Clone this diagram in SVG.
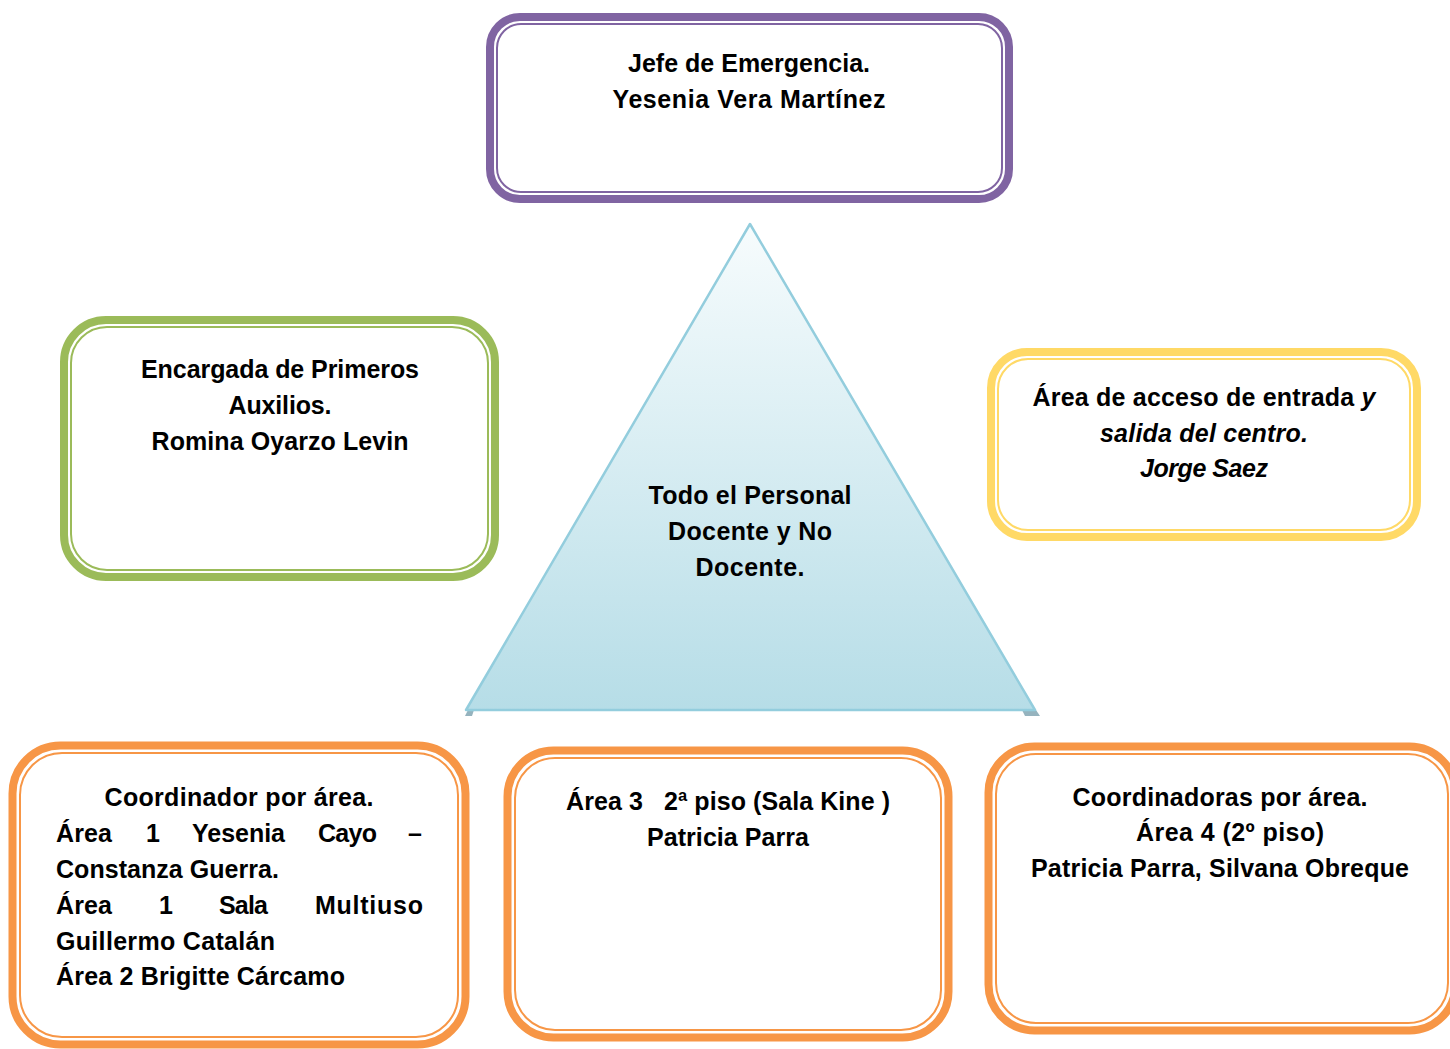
<svg xmlns="http://www.w3.org/2000/svg" width="1450" height="1049" viewBox="0 0 1450 1049">
<defs>
<linearGradient id="tri" x1="0" y1="0" x2="0" y2="1">
<stop offset="0" stop-color="#f7fcfd"/>
<stop offset="1" stop-color="#b6dde7"/>
</linearGradient>
<style>
.t{font-family:"Liberation Sans",Arial,sans-serif;font-weight:bold;font-size:25px;fill:#000}
.c{text-anchor:middle}
.i{font-style:italic}
.purple{stroke:#8064a2}
.green{stroke:#9bbb59}
.yellow{stroke:#ffd966}
.orange{stroke:#f79646}
.thick{fill:#fff;stroke-width:8}
.thin{fill:none;stroke-width:2}
</style>
</defs>
<rect width="1450" height="1049" fill="#fff"/>

<g id="triangle">
<polygon points="465,716 472,716 474,710 468,710" fill="#95b3be"/>
<polygon points="1022,710 1036,710 1040,716 1025,716" fill="#95b3be"/>
<polygon points="750,224 1035,710 466,710" fill="url(#tri)" stroke="#93cddd" stroke-width="2.5" stroke-linejoin="round"/>
<text class="t c" x="750" y="504" textLength="203">Todo el Personal</text>
<text class="t c" x="750" y="540" textLength="164">Docente y No</text>
<text class="t c" x="750" y="576" textLength="109">Docente.</text>
</g>

<g id="jefe">
<rect class="thick purple" x="490" y="17" width="519" height="182" rx="30"/>
<rect class="thin purple" x="497" y="24" width="505" height="168" rx="24"/>
<text class="t c" x="749" y="72" textLength="242">Jefe de Emergencia.</text>
<text class="t c" x="749" y="108" textLength="273">Yesenia Vera Martínez</text>
</g>

<g id="primeros-auxilios">
<rect class="thick green" x="64" y="320" width="431" height="257" rx="42"/>
<rect class="thin green" x="71" y="327" width="417" height="243" rx="36"/>
<text class="t c" x="280" y="378" textLength="278">Encargada de Primeros</text>
<text class="t c" x="280" y="414" textLength="103">Auxilios.</text>
<text class="t c" x="280" y="450" textLength="257">Romina Oyarzo Levin</text>
</g>

<g id="acceso">
<rect class="thick yellow" x="991" y="352" width="426" height="185" rx="36"/>
<rect class="thin yellow" x="998" y="359" width="412" height="171" rx="30"/>
<text class="t c" x="1204" y="406" textLength="343">Área de acceso de entrada <tspan class="i">y</tspan></text>
<text class="t c i" x="1204" y="442" textLength="208">salida del centro.</text>
<text class="t c i" x="1204" y="477" textLength="128">Jorge Saez</text>
</g>

<g id="coordinador">
<rect class="thick orange" x="12.5" y="745.5" width="453" height="299" rx="48" stroke-width="9"/>
<rect class="thin orange" x="20" y="753" width="438" height="284" rx="42"/>
<text class="t c" x="239" y="806" textLength="269">Coordinador por área.</text>
<text class="t" x="56" y="842" textLength="56">Área</text>
<text class="t" x="146" y="842" textLength="12">1</text>
<text class="t" x="192" y="842" textLength="93">Yesenia</text>
<text class="t" x="318" y="842" textLength="59">Cayo</text>
<text class="t" x="408" y="842" textLength="16">–</text>
<text class="t" x="56" y="878" textLength="223">Constanza Guerra.</text>
<text class="t" x="56" y="914" textLength="56">Área</text>
<text class="t" x="159" y="914" textLength="13">1</text>
<text class="t" x="219" y="914" textLength="49">Sala</text>
<text class="t" x="315" y="914" textLength="108">Multiuso</text>
<text class="t" x="56" y="950" textLength="219">Guillermo Catalán</text>
<text class="t" x="56" y="985" textLength="289">Área 2 Brigitte Cárcamo</text>
</g>

<g id="area3">
<rect class="thick orange" x="507.5" y="750.5" width="441" height="287" rx="46" stroke-width="9"/>
<rect class="thin orange" x="515" y="758" width="426" height="272" rx="40"/>
<text class="t" x="566" y="810" textLength="324" xml:space="preserve">Área 3   2ª piso (Sala Kine )</text>
<text class="t c" x="728" y="846" textLength="162">Patricia Parra</text>
</g>

<g id="area4">
<rect class="thick orange" x="988.5" y="746.5" width="467" height="284" rx="46" stroke-width="9"/>
<rect class="thin orange" x="996" y="754" width="452" height="269" rx="40"/>
<text class="t c" x="1220" y="806" textLength="295">Coordinadoras por área.</text>
<text class="t c" x="1230" y="841" textLength="188">Área 4 (2º piso)</text>
<text class="t c" x="1220" y="877" textLength="378">Patricia Parra, Silvana Obreque</text>
</g>

<g id="connectors"></g>
</svg>
